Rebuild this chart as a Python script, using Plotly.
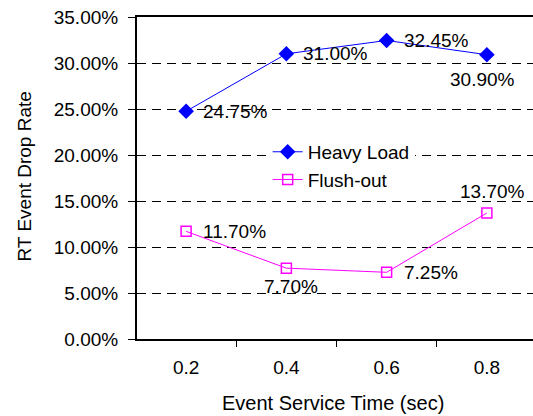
import plotly.graph_objects as go

categories = ["0.2", "0.4", "0.6", "0.8"]
heavy_load = [24.75, 31.00, 32.45, 30.90]
flush_out = [11.70, 7.70, 7.25, 13.70]
y_ticks = [0, 5, 10, 15, 20, 25, 30, 35]

FONT = "Liberation Sans, Arial, sans-serif"
FS = 19

fig = go.Figure()
fig.add_trace(go.Scatter(
    x=categories, y=[v / 100 for v in heavy_load], name="Heavy Load",
    mode="lines+markers",
    line=dict(color="#0000FF", width=1),
    marker=dict(symbol="diamond", size=12, color="#0000FF"),
))
fig.add_trace(go.Scatter(
    x=categories, y=[v / 100 for v in flush_out], name="Flush-out",
    mode="lines+markers",
    line=dict(color="#FF00FF", width=1),
    marker=dict(symbol="square-open", size=10, color="#FF00FF", line=dict(width=1.5)),
))

# data label placement per point: (side, xshift, yshift)
heavy_pos = [("right", 15, 0), ("right", 15, 0), ("right", 15, 0), ("below", -4, -12)]
flush_pos = [("right", 15, 0), ("below", 5, -6), ("right", 15, 0), ("above", 6, 9)]

def add_labels(vals, pos):
    for i, (v, (p, dx, dy)) in enumerate(zip(vals, pos)):
        kw = dict(x=i, y=v / 100, xref="x", yref="y", text=f"{v:.2f}%",
                  showarrow=False, xshift=dx, yshift=dy,
                  font=dict(family=FONT, size=FS, color="black"))
        if p == "right":
            kw.update(xanchor="left", yanchor="middle")
        elif p == "below":
            kw.update(xanchor="center", yanchor="top")
        else:
            kw.update(xanchor="center", yanchor="bottom")
        fig.add_annotation(**kw)

add_labels(heavy_load, heavy_pos)
add_labels(flush_out, flush_pos)

fig.add_annotation(text="RT Event Drop Rate", xref="paper", yref="paper",
                   x=-0.285, y=0.505, textangle=-90, showarrow=False,
                   xanchor="center", yanchor="middle",
                   font=dict(family=FONT, size=FS, color="black"))
fig.add_annotation(text="Event Service Time (sec)", xref="paper", yref="paper",
                   x=0.495, y=-0.199, showarrow=False,
                   xanchor="center", yanchor="middle",
                   font=dict(family=FONT, size=FS + 1, color="black"))

fig.update_layout(
    width=533, height=416,
    margin=dict(l=137, r=0, t=17, b=77),
    paper_bgcolor="white", plot_bgcolor="white",
    font=dict(family=FONT, size=FS, color="black"),
    showlegend=True,
    legend=dict(x=0.33, y=0.64, xanchor="left", yanchor="top",
                bgcolor="white", borderwidth=0,
                font=dict(family=FONT, size=FS, color="black"),
                tracegroupgap=0),
)
fig.update_xaxes(
    type="category", range=[-0.49, 3.46],
    showline=True, linecolor="black", linewidth=2, mirror=True,
    ticks="outside", tickson="boundaries", ticklen=6, tickcolor="black",
    ticklabelstandoff=10,
    showgrid=False, zeroline=False,
)
fig.update_yaxes(
    range=[0, 0.35], tickvals=[t / 100 for t in y_ticks], tickformat=".2%",
    showline=True, linecolor="black", linewidth=2,
    ticks="outside", ticklen=7, tickcolor="black",
    ticklabelstandoff=6,
    showgrid=True, gridcolor="black", gridwidth=1, griddash="9px,6px",
    zeroline=False,
)

fig.write_html("out.html")
